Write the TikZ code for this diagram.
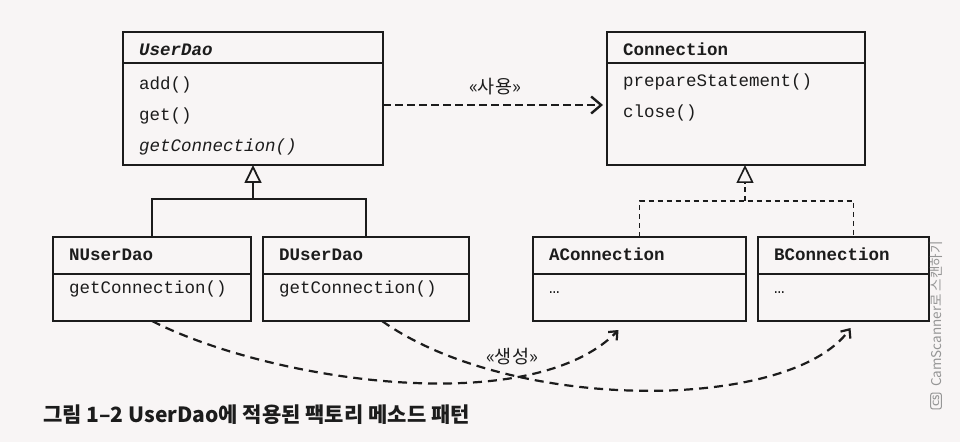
\documentclass[tikz,border=0pt]{standalone}
\usepackage{fontspec}
\setmonofont{Liberation Mono}
\newfontfamily\krfont{Noto Sans CJK KR}
\usepackage{tikz}
\usetikzlibrary{arrows.meta,positioning}
\usepackage{xcolor}
\definecolor{cInk}{RGB}{28,28,28}
\definecolor{cPaper}{RGB}{248,245,245}
\definecolor{cMark}{RGB}{150,150,150}
\newcommand{\mfont}{\fontsize{17.5}{31}\selectfont\ttfamily}
\tikzset{
	chead/.style={draw=cInk, line width=1.8pt, outer sep=0pt, anchor=north west,
		inner xsep=16pt, inner ysep=0pt, align=left, text=cInk,
		font=\mfont\bfseries},
	cbody/.style={draw=cInk, line width=1.8pt, outer sep=0pt,
		inner xsep=16pt, inner ysep=0pt, align=left, text=cInk,
		font=\mfont},
	cline/.style={line width=1.8pt, draw=cInk},
	inh/.style={-{Triangle[open,length=18pt,width=17pt]}, line width=1.8pt,
		draw=cInk},
	rline/.style={line width=1.6pt, draw=cInk, dash pattern=on 5pt off 4pt},
	real/.style={-{Triangle[open,length=18pt,width=17pt]}, line width=1.6pt,
		draw=cInk, dash pattern=on 5pt off 4pt},
	usearr/.style={-{Straight Barb[length=10pt,width=17pt]}, line width=2.4pt,
		draw=cInk, dash pattern=on 7.5pt off 4.5pt},
	mkarr/.style={-{Straight Barb[length=7pt,width=12pt]}, line width=2.2pt,
		draw=cInk, dash pattern=on 9pt off 6pt},
	klabel/.style={font=\krfont\fontsize{18.5}{20}\selectfont, text=cInk,
		inner sep=1pt},
	wmark/.style={font=\krfont\fontsize{13.5}{15}\selectfont, text=cMark,
		inner sep=0pt},
}

\begin{document}
\begin{tikzpicture}[x=1pt,y=1pt]
	\fill[cPaper] (0,0) rectangle (960,442);
	\useasboundingbox (0,0) rectangle (960,442);

	% Top row (abstract DAO and connection interface)
	\node[chead,text width=228pt,text height=24pt,text depth=7pt] at (123,410) (userdao) {\textit{UserDao}};
	\node[cbody,text width=228pt,text height=27pt,text depth=75pt,below=0pt of userdao] (userdaoM) {add()\\get()\\\textit{getConnection()}};

	\node[chead,text width=226pt,text height=24pt,text depth=7pt] at (607,410) (conn) {Connection};
	\node[cbody,text width=226pt,text height=24pt,text depth=78pt,below=0pt of conn] (connM) {prepareStatement()\\close()};

	% Bottom row (subclasses and implementations)
	\node[chead,text width=166pt,text height=23pt,text depth=14pt] at (53,205)  (nuser) {NUserDao};
	\node[cbody,text width=166pt,text height=19pt,text depth=28pt,below=0pt of nuser] (nuserM) {getConnection()};

	\node[chead,text width=174pt,text height=23pt,text depth=14pt] at (263,205) (duser) {DUserDao};
	\node[cbody,text width=174pt,text height=19pt,text depth=28pt,below=0pt of duser] (duserM) {getConnection()};

	\node[chead,text width=181pt,text height=23pt,text depth=14pt] at (533,205) (aconn) {AConnection};
	\node[cbody,text width=181pt,text height=19pt,text depth=28pt,below=0pt of aconn] (aconnM) {…};

	\node[chead,text width=139pt,text height=23pt,text depth=14pt] at (758,205) (bconn) {BConnection};
	\node[cbody,text width=139pt,text height=19pt,text depth=28pt,below=0pt of bconn] (bconnM) {…};

	% inheritance
	\coordinate (udj) at (253,243);
	\draw[cline] (nuser.north) |- (udj) -| (duser.north);
	\draw[inh] (udj) -- (userdaoM.south);

	% realization
	\coordinate (cj) at (745,241);
	\draw[rline] (aconn.north) |- (cj) -| ([xshift=10pt]bconn.north);
	\draw[real] (cj) -- (cj |- connM.south);

	% uses
	\draw[usearr,shorten >=4pt] ([yshift=9pt]userdaoM.east) -- ([yshift=9pt]connM.west)
		node[klabel,midway,above=8pt] (use) {«사용»};

	% creates
	\draw[mkarr] (nuserM.south) .. controls +(118,-60) and +(-88,-90) .. ([xshift=-21pt,yshift=-9pt]aconnM.south);
	\draw[mkarr] ([xshift=16pt]duserM.south) .. controls +(130,-92) and +(-60,-84) .. ([xshift=7pt,yshift=-7pt]bconnM.south);
	\node[klabel] at (512,85) (create) {«생성»};

	% caption
	\node[anchor=west,inner sep=0pt,text=cInk,font=\krfont\bfseries\fontsize{21}{24}\selectfont] at (43,27) (caption) {그림 1–2 UserDao에 적용된 팩토리 메소드 패턴};

	% scanner mark
	\node[wmark,draw=cMark,line width=1pt,rounded corners=2pt,inner sep=2pt,rotate=90,font=\sffamily\bfseries\fontsize{9}{10}\selectfont] at (936,41) (csbox) {CS};
	\node[wmark,rotate=90,anchor=west] at (936,55) (cstext) {CamScanner로 스캔하기};
\end{tikzpicture}
\end{document}
